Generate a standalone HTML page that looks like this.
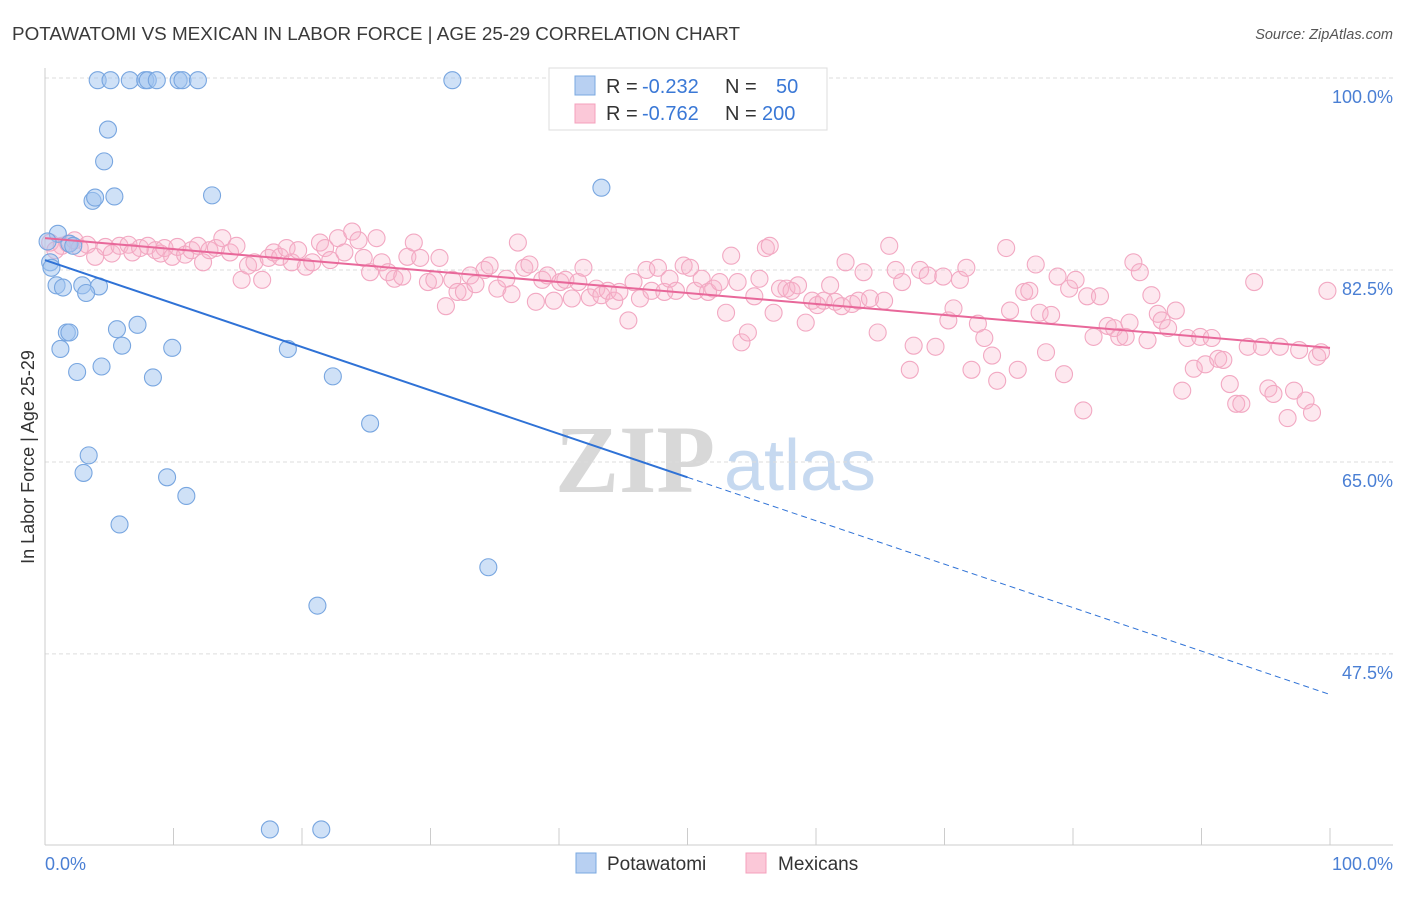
<!DOCTYPE html>
<html><head><meta charset="utf-8"><style>
html,body{margin:0;padding:0;background:#fff;}
body{width:1406px;height:892px;overflow:hidden;font-family:"Liberation Sans",sans-serif;}
</style></head><body>
<svg id="chart" width="1406" height="892" xmlns="http://www.w3.org/2000/svg" font-family="Liberation Sans, sans-serif">
<text x="12" y="40" font-size="18" fill="#3a3a3a" textLength="728" lengthAdjust="spacingAndGlyphs">POTAWATOMI VS MEXICAN IN LABOR FORCE | AGE 25-29 CORRELATION CHART</text>
<text x="1393" y="39" font-size="14.5" fill="#555" font-style="italic" text-anchor="end">Source: ZipAtlas.com</text>
<text transform="translate(34,457) rotate(-90)" font-size="18" fill="#333" text-anchor="middle">In Labor Force | Age 25-29</text>
<g>
<text x="635" y="492" font-size="96" font-family="Liberation Serif, serif" fill="#d8d8d8" text-anchor="middle" font-weight="bold">ZIP</text>
<text x="800" y="490" font-size="72" fill="#c6d9f0" text-anchor="middle">atlas</text>
</g>
<g id="grid"></g>
<g id="axes"></g>
<g id="marks"></g>
<g>
<rect x="549" y="68" width="278" height="62" fill="#fff" stroke="#ddd"/>
<rect x="575" y="76" width="20" height="19" fill="#b8d0f2" stroke="#7aa8e0"/>
<rect x="575" y="104" width="20" height="19" fill="#fbc8d8" stroke="#f4a0bc"/>
<text font-size="20" fill="#333"><tspan x="606" y="93">R = </tspan><tspan x="642" fill="#3a78d6">-0.232</tspan><tspan x="725">N =</tspan><tspan x="776" fill="#3a78d6">50</tspan></text>
<text font-size="20" fill="#333"><tspan x="606" y="120">R = </tspan><tspan x="642" fill="#3a78d6">-0.762</tspan><tspan x="725">N =</tspan><tspan x="762" fill="#3a78d6">200</tspan></text>
</g>
<g>
<rect x="576" y="853" width="20" height="20" fill="#b8d0f2" stroke="#7aa8e0"/>
<text x="607" y="870" font-size="19" fill="#333">Potawatomi</text>
<rect x="746" y="853" width="20" height="20" fill="#fbc8d8" stroke="#f4a0bc"/>
<text x="778" y="870" font-size="19" fill="#333">Mexicans</text>
</g>
</svg>
<script>
const yTicks=[100,82.5,65,47.5];
const yTickLabels=["100.0%","82.5%","65.0%","47.5%"];
const blueX=[4.1,5.1,6.6,7.8,8.0,8.7,10.4,10.7,11.9,31.7,4.9,4.6,3.7,3.9,5.4,13.0,43.3,1.0,0.2,0.4,0.5,0.9,1.4,2.9,4.2,3.2,1.7,1.9,5.6,7.2,1.2,6.0,9.9,18.9,4.4,2.5,8.4,22.4,25.3,3.4,3.0,9.5,11.0,5.8,34.5,21.2,17.5,21.5,1.9,2.2];
const blueY=[99.8,99.8,99.8,99.8,99.8,99.8,99.8,99.8,99.8,99.8,95.3,92.4,88.8,89.1,89.2,89.3,90.0,85.8,85.1,83.2,82.7,81.1,80.9,81.1,81.0,80.4,76.8,76.8,77.1,77.5,75.3,75.6,75.4,75.3,73.7,73.2,72.7,72.8,68.5,65.6,64.0,63.6,61.9,59.3,55.4,51.9,31.5,31.5,84.9,84.7];
const pinkX=[0.4,0.8,1.3,1.8,2.3,2.7,3.3,3.9,4.7,5.2,5.8,6.5,6.8,7.4,8.0,8.6,9.0,9.3,9.9,10.3,10.9,11.4,11.9,12.3,12.8,13.3,13.8,14.4,14.9,15.3,15.8,16.3,16.9,17.4,17.8,18.3,18.8,19.2,19.7,20.3,20.8,21.4,21.8,22.2,22.8,23.3,23.9,24.4,24.8,25.3,25.8,26.2,26.7,27.2,27.8,28.2,28.7,29.2,29.8,30.3,30.7,31.2,31.7,32.1,32.6,33.1,33.5,34.2,34.6,35.2,35.9,36.3,36.8,37.3,37.7,38.2,38.7,39.1,39.6,40.1,40.5,41.0,41.5,41.9,42.4,42.9,43.3,43.8,44.3,44.7,45.4,45.8,46.3,46.8,47.2,47.7,48.2,48.6,49.1,49.7,50.2,50.6,51.1,51.6,52.0,52.5,53.0,53.4,53.9,54.2,54.7,55.2,55.6,56.1,56.4,56.7,57.2,57.7,58.1,58.6,59.2,59.7,60.1,60.6,61.1,61.5,62.0,62.3,62.8,63.3,63.7,64.2,64.8,65.3,65.7,66.2,66.7,67.3,67.6,68.1,68.7,69.3,69.9,70.3,70.7,71.2,71.7,72.1,72.6,73.1,73.7,74.1,74.8,75.1,75.7,76.2,76.6,77.1,77.4,77.9,78.3,78.8,79.3,79.7,80.2,80.8,81.1,81.6,82.1,82.7,83.2,83.6,84.1,84.4,84.7,85.2,85.8,86.1,86.6,86.9,87.4,88.0,88.5,88.9,89.4,89.9,90.3,90.8,91.3,91.7,92.2,92.7,93.1,93.6,94.1,94.7,95.2,95.6,96.1,96.7,97.2,97.6,98.1,98.6,99.0,99.3,99.8];
const pinkY=[85.0,84.3,84.7,84.9,85.2,84.5,84.8,83.7,84.6,84.0,84.7,84.8,84.1,84.5,84.7,84.3,84.0,84.5,83.7,84.6,83.9,84.3,84.7,83.2,84.3,84.5,85.4,84.1,84.7,81.6,82.9,83.2,81.6,83.6,84.1,83.7,84.5,83.2,84.3,82.8,83.2,85.0,84.5,83.4,85.4,84.1,86.0,85.2,83.6,82.3,85.4,83.2,82.3,81.7,81.9,83.7,85.0,83.6,81.4,81.6,83.6,79.2,81.6,80.5,80.5,82.0,81.2,82.5,82.9,80.8,81.7,80.3,85.0,82.7,83.0,79.6,81.6,82.0,79.7,81.4,81.6,79.9,81.4,82.7,80.0,80.8,80.2,80.6,79.7,80.5,77.9,81.4,79.9,82.5,80.6,82.7,80.5,81.7,80.6,82.9,82.7,80.6,81.7,80.5,80.8,81.4,78.6,83.8,81.4,75.9,76.8,80.1,81.7,84.5,84.7,78.6,80.8,80.8,80.6,81.1,77.7,79.7,79.3,79.7,81.1,79.6,79.2,83.2,79.4,79.7,82.3,79.9,76.8,79.7,84.7,82.5,81.4,73.4,75.6,82.5,82.0,75.5,81.9,77.9,79.0,81.6,82.7,73.4,77.6,76.3,74.7,72.4,84.5,78.8,73.4,80.5,80.6,83.0,78.6,75.0,78.4,81.9,73.0,80.8,81.6,69.7,80.1,76.4,80.1,77.4,77.2,76.4,76.4,77.7,83.2,82.3,76.1,80.2,78.5,77.9,77.2,78.8,71.5,76.3,73.5,76.4,73.9,76.3,74.4,74.3,72.1,70.3,70.3,75.5,81.4,75.5,71.7,71.2,75.5,69.0,71.5,75.2,70.6,69.5,74.6,75.0,80.6];
const blueLine=[83.4,43.8];
const pinkLine=[85.4,75.4];
const NS="http://www.w3.org/2000/svg";
const X0=45,X1=1330,Y100=78,PXPER=10.97;
function sx(v){return X0+(X1-X0)*v/100;}
function sy(v){return Y100+(100-v)*PXPER;}
function mk(tag,attrs,parent){const e=document.createElementNS(NS,tag);for(const k in attrs)e.setAttribute(k,attrs[k]);parent.appendChild(e);return e;}
const grid=document.getElementById('grid'),axes=document.getElementById('axes'),marks=document.getElementById('marks');
yTicks.forEach((t,i)=>{
 const l=mk('line',{x1:X0,x2:1393,y1:sy(t),y2:sy(t),stroke:'#ddd','stroke-dasharray':'4,3'},grid);
 
 
 const tx=mk('text',{x:1393,y:sy(t)+25,'font-size':18,fill:'#4a7fd4','text-anchor':'end'},axes);
 tx.textContent=yTickLabels[i];
 
 
});
mk('line',{x1:X0,x2:X0,y1:68,y2:845,stroke:'#ccc'},axes);
mk('line',{x1:X0,x2:1393,y1:845,y2:845,stroke:'#ccc'},axes);
for(let i=0;i<=10;i++){const t=mk('line',{x1:sx(i*10),x2:sx(i*10),y1:828,y2:845,stroke:'#ccc'},axes);
 
 }
const xl=mk('text',{x:45,y:870,'font-size':18,fill:'#4a7fd4'},axes);xl.textContent='0.0%';


const xr=mk('text',{x:1393,y:870,'font-size':18,fill:'#4a7fd4','text-anchor':'end'},axes);xr.textContent='100.0%';


pinkX.forEach((x,i)=>{const c=mk('circle',{cx:sx(x),cy:sy(pinkY[i]),r:8.5,fill:'rgba(248,180,202,0.3)',stroke:'#f2a8c2','stroke-width':1.1},marks);
 
 });
blueX.forEach((x,i)=>{const c=mk('circle',{cx:sx(x),cy:sy(blueY[i]),r:8.5,fill:'rgba(160,195,240,0.5)',stroke:'#78a6e0','stroke-width':1.1},marks);
 
 });
const bSolidEnd=50;
function by(x){return blueLine[0]+(blueLine[1]-blueLine[0])*x/100;}
const b1=mk('line',{x1:sx(0),y1:sy(by(0)),x2:sx(bSolidEnd),y2:sy(by(bSolidEnd)),stroke:'#2f72d6','stroke-width':2},marks);


const b2=mk('line',{x1:sx(bSolidEnd),y1:sy(by(bSolidEnd)),x2:sx(100),y2:sy(by(100)),stroke:'#2f72d6','stroke-width':1,'stroke-dasharray':'6,4'},marks);


const p1=mk('line',{x1:sx(0),y1:sy(pinkLine[0]),x2:sx(100),y2:sy(pinkLine[1]),stroke:'#e8689a','stroke-width':2},marks);


</script>
</body></html>
